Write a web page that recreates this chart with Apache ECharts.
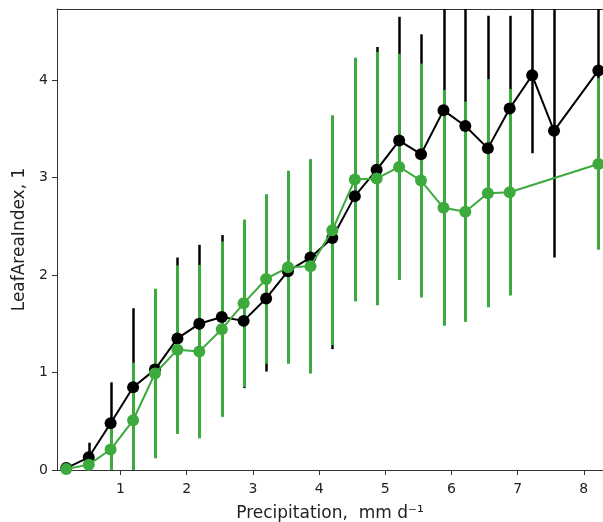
<!DOCTYPE html>
<html>
<head>
<meta charset="utf-8">
<script src="https://cdn.jsdelivr.net/npm/echarts@6/dist/echarts.min.js"></script>
<style>html,body{margin:0;padding:0;background:#fff;}#c{width:603px;height:522px;}</style>
</head>
<body>
<div id="c"></div>
<script>
const precip = [0.18, 0.52, 0.85, 1.19, 1.52, 1.86, 2.19, 2.53, 2.86, 3.2, 3.53, 3.87, 4.2, 4.54, 4.87, 5.21, 5.54, 5.88, 6.21, 6.55, 6.88, 7.22, 7.55, 8.22];
const blackMean = [0.02, 0.13, 0.48, 0.85, 1.03, 1.35, 1.50, 1.57, 1.53, 1.76, 2.04, 2.18, 2.38, 2.81, 3.08, 3.38, 3.24, 3.69, 3.53, 3.30, 3.71, 4.05, 3.48, 4.10];
const blackErr = [0.03, 0.15, 0.42, 0.81, 0.70, 0.83, 0.81, 0.84, 0.69, 0.75, 0.85, 0.90, 1.14, 1.05, 1.26, 1.27, 1.23, 1.30, 1.30, 1.36, 0.95, 0.80, 1.30, 1.00];
const greenMean = [0.01, 0.055, 0.21, 0.51, 0.99, 1.235, 1.215, 1.445, 1.71, 1.96, 2.08, 2.09, 2.46, 2.98, 2.99, 3.11, 2.97, 2.69, 2.65, 2.84, 2.85, null, null, 3.14];
const greenErr = [0.02, 0.05, 0.30, 0.59, 0.87, 0.865, 0.89, 0.90, 0.86, 0.87, 0.99, 1.10, 1.18, 1.25, 1.30, 1.16, 1.20, 1.21, 1.13, 1.17, 1.06, null, null, 0.88];
const xTicks = [1, 2, 3, 4, 5, 6, 7, 8];
const yTicks = [0, 1, 2, 3, 4];

const X_MIN = 0.04, X_MAX = 8.29, Y_MIN = 0, Y_MAX = 4.73;
const BLACK = '#000000', GREEN = '#3daa3d';
const FONT = 'DejaVu Sans';

function errData(mean, err) {
  const out = [];
  for (let i = 0; i < precip.length; i++) {
    if (mean[i] == null) continue;
    out.push([precip[i], mean[i] - err[i], mean[i] + err[i]]);
  }
  return out;
}
function lineData(mean) {
  return precip.map((x, i) => [x, mean[i]]);
}
function errSeries(mean, err, color, z, w) {
  return {
    type: 'custom',
    z: z,
    silent: true,
    data: errData(mean, err),
    encode: { x: 0, y: [1, 2] },
    renderItem: function (params, api) {
      const x = api.value(0);
      const lo = Math.max(Y_MIN, api.value(1));
      const hi = Math.min(Y_MAX, api.value(2));
      const p1 = api.coord([x, lo]);
      const p2 = api.coord([x, hi]);
      const px = Math.round(p1[0]) + 0.5;
      return {
        type: 'line',
        shape: { x1: px, y1: p1[1], x2: px, y2: p2[1] },
        style: { stroke: color, lineWidth: w }
      };
    }
  };
}

const chart = echarts.init(document.getElementById('c'), null, { renderer: 'canvas' });
chart.setOption({
  animation: false,
  backgroundColor: '#ffffff',
  grid: { left: 57, top: 9, right: 0, bottom: 52, show: false, containLabel: false, outerBoundsMode: 'none' },
  xAxis: [{
    type: 'value', min: X_MIN, max: X_MAX,
    name: 'Precipitation,  mm d\u207B\u00B9', nameLocation: 'middle', nameGap: 35,
    nameTextStyle: { fontFamily: FONT, fontSize: 17, color: '#222' },
    axisLine: { show: true, onZero: false, lineStyle: { color: '#333', width: 1 } },
    axisTick: { show: true, length: 5, customValues: xTicks, lineStyle: { color: '#333' } },
    axisLabel: { customValues: xTicks, fontFamily: FONT, fontSize: 14, color: '#222', margin: 12 },
    splitLine: { show: false }
  }, {
    type: 'value', position: 'top', min: X_MIN, max: X_MAX,
    axisLine: { show: true, onZero: false, lineStyle: { color: '#333', width: 1 } },
    axisTick: { show: false }, axisLabel: { show: false }, splitLine: { show: false }
  }],
  yAxis: {
    type: 'value', min: Y_MIN, max: Y_MAX,
    name: 'LeafAreaIndex, 1', nameLocation: 'middle', nameGap: 25, nameRotate: 90,
    nameTextStyle: { fontFamily: FONT, fontSize: 17, color: '#222' },
    axisLine: { show: true, lineStyle: { color: '#333', width: 1 } },
    axisTick: { show: true, length: 5, customValues: yTicks, lineStyle: { color: '#333' } },
    axisLabel: { customValues: yTicks, fontFamily: FONT, fontSize: 14, color: '#222', margin: 9 },
    splitLine: { show: false }
  },
  series: [
    errSeries(blackMean, blackErr, BLACK, 2, 2.5),
    errSeries(greenMean, greenErr, GREEN, 3, 3),
    {
      type: 'line', z: 4, data: lineData(blackMean),
      symbol: 'circle', symbolSize: 12, showAllSymbol: true,
      lineStyle: { color: BLACK, width: 2 }, itemStyle: { color: BLACK },
      clip: true
    },
    {
      type: 'line', z: 5, data: lineData(greenMean), connectNulls: true,
      symbol: 'circle', symbolSize: 12, showAllSymbol: true,
      lineStyle: { color: GREEN, width: 2 }, itemStyle: { color: GREEN },
      clip: true
    }
  ]
});
</script>
</body>
</html>
